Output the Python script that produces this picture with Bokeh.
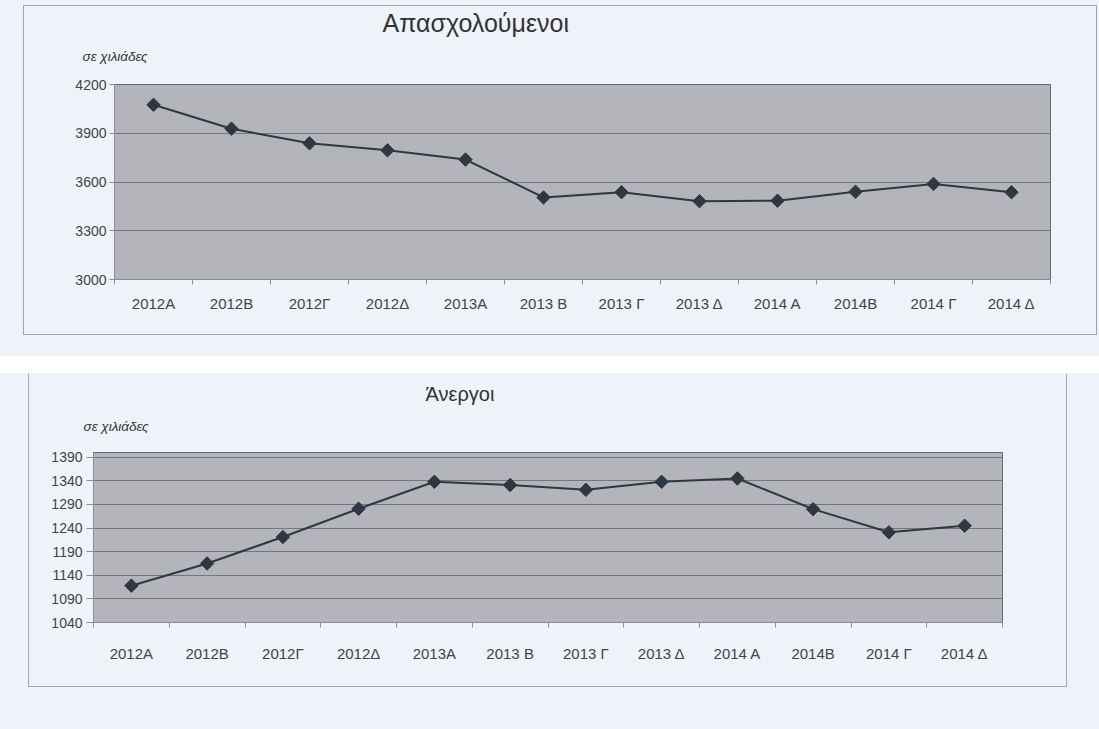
from bokeh.plotting import figure
from bokeh.models import Title, FixedTicker, Range1d
from bokeh.layouts import column
from bokeh.embed import file_html
from bokeh.resources import INLINE

# ---- data ----
quarters = ["2012A", "2012B", "2012Γ", "2012Δ", "2013A", "2013 B", "2013 Γ",
            "2013 Δ", "2014 A", "2014B", "2014 Γ", "2014 Δ"]
employed = [4075, 3928, 3838, 3795, 3738, 3505, 3537, 3482, 3485, 3540, 3588, 3537]
unemployed = [1118, 1165, 1221, 1281, 1338, 1331, 1321, 1338, 1345, 1280, 1231, 1245]
employed_ticks = [3000, 3300, 3600, 3900, 4200]
unemployed_ticks = [1040, 1090, 1140, 1190, 1240, 1290, 1340, 1390]
title_employed = "Απασχολούμενοι"
title_unemployed = "Άνεργοι"
unit_label = "σε χιλιάδες"

PAGE_BG = "#eef2f9"
PLOT_BG = "#b3b5bb"
GRID = "#74777e"
LINE = "#2f3742"
TEXT = "#444444"
FONT = "Liberation Sans"


def make_chart(values, yticks, yrange, title, width, height, borders,
               title_off, title_size, unit_off, unit_standoff, title_standoff,
               xstand, ytick_out, ystand):
    n = len(quarters)
    xs = list(range(n))
    p = figure(width=width, height=height, output_backend="svg",
               toolbar_location=None, x_range=Range1d(-0.5, n - 0.5),
               y_range=Range1d(*yrange))
    p.min_border_left, p.min_border_right, p.min_border_top, p.min_border_bottom = borders
    p.background_fill_color = PLOT_BG
    p.border_fill_color = PAGE_BG
    p.outline_line_color = "#66696f"
    p.outline_line_width = 1

    # axes
    p.xaxis.ticker = FixedTicker(ticks=xs, minor_ticks=[i - 0.5 for i in range(n + 1)])
    p.xaxis.major_label_overrides = {i: q for i, q in enumerate(quarters)}
    p.xaxis.major_tick_line_color = None
    p.xaxis.major_tick_out = 0
    p.xaxis.major_tick_in = 0
    p.xaxis.minor_tick_out = 5
    p.xaxis.minor_tick_in = 0
    p.xaxis.minor_tick_line_color = "#8a8d93"
    p.xaxis.axis_line_color = "#8a8d93"
    p.xaxis.major_label_standoff = xstand
    p.xaxis.major_label_text_font = FONT
    p.xaxis.major_label_text_font_size = "15px"
    p.xaxis.major_label_text_color = TEXT

    p.yaxis.ticker = FixedTicker(ticks=yticks)
    p.yaxis.minor_tick_line_color = None
    p.yaxis.major_tick_out = ytick_out
    p.yaxis.major_tick_in = 0
    p.yaxis.major_tick_line_color = "#8a8d93"
    p.yaxis.axis_line_color = "#8a8d93"
    p.yaxis.major_label_standoff = ystand
    p.yaxis.major_label_text_font = FONT
    p.yaxis.major_label_text_font_size = "14px"
    p.yaxis.major_label_text_color = TEXT

    p.xgrid.grid_line_color = None
    p.ygrid.ticker = FixedTicker(ticks=yticks)
    p.ygrid.grid_line_color = GRID
    p.ygrid.grid_line_width = 1

    # data
    p.line(xs, values, line_color=LINE, line_width=2)
    p.scatter(xs, values, marker="square", angle=0.785398, size=9.5,
              fill_color=LINE, line_color=LINE)

    # texts (first added sits closest to the plot area)
    p.add_layout(Title(text=unit_label, align="left", offset=unit_off,
                       standoff=unit_standoff, text_font=FONT, text_font_size="13.5px",
                       text_font_style="italic", text_color="#333333"), "above")
    p.add_layout(Title(text=title, align="left", offset=title_off,
                       standoff=title_standoff, text_font=FONT, text_font_size=title_size,
                       text_font_style="normal", text_color="#333333"), "above")
    return p


p1 = make_chart(employed, employed_ticks, (3000, 4200), title_employed,
                width=1074, height=330, borders=(90, 48, 78, 57),
                title_off=268, title_size="25px", unit_off=-32,
                unit_standoff=42, title_standoff=-22,
                xstand=10, ytick_out=5, ystand=3)
p1.styles = {"border": "1px solid #a3a6ac"}
p1.margin = (5, 2, 21, 23)

p2 = make_chart(unemployed, unemployed_ticks, (1040, 1400), title_unemployed,
                width=1039, height=313, borders=(64, 66, 78, 65),
                title_off=332, title_size="20px", unit_off=-10,
                unit_standoff=38, title_standoff=-14,
                xstand=17, ytick_out=7, ystand=4)
p2.styles = {"border-left": "1px solid #a3a6ac", "border-right": "1px solid #a3a6ac",
             "border-bottom": "1px solid #a3a6ac"}
p2.margin = (1, 32, 42, 28)

top = column(p1, styles={"background-color": PAGE_BG}, width=1099)
bottom = column(p2, styles={"background-color": PAGE_BG}, width=1099)
page = column(top, bottom, spacing=17)

open("out.html", "w").write(file_html(page, INLINE))
